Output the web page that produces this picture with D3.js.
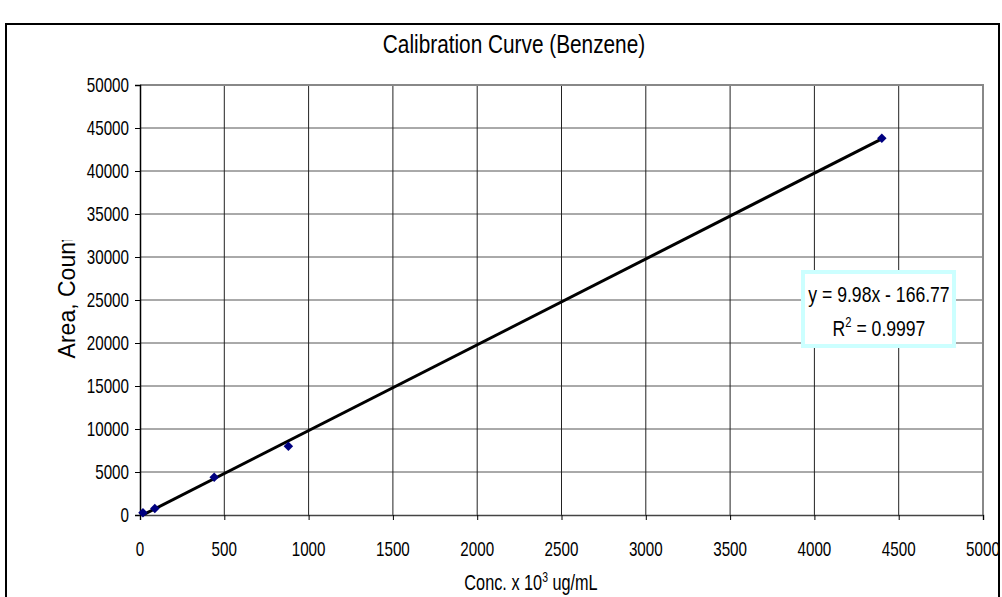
<!DOCTYPE html>
<html>
<head>
<meta charset="utf-8">
<script src="https://cdn.jsdelivr.net/npm/d3@7"></script>
<style>
  body { margin: 0; background: #fff; }
  text { font-family: "Liberation Sans", Arial, sans-serif; fill: #000; }
</style>
</head>
<body>
<svg id="chart" width="1002" height="597"></svg>
<script>
// data
var concs = [17.6, 88, 440, 880, 4400];
var areas = [250, 750, 4400, 8000, 43800];
var xTicks = [0, 500, 1000, 1500, 2000, 2500, 3000, 3500, 4000, 4500, 5000];
var yTicks = [0, 5000, 10000, 15000, 20000, 25000, 30000, 35000, 40000, 45000, 50000];
var slope = 9.98, intercept = -166.77, r2 = 0.9997;

var svg = d3.select("#chart");

var x = d3.scaleLinear().domain([0, 5000]).range([140, 983]);
var y = d3.scaleLinear().domain([0, 50000]).range([515, 85]);

// narrow text: scale horizontally around anchor point
function narrow(sel, sx) {
  return sel.attr("transform", function(d) {
    var p = this.__pos;
    return "translate(" + p[0] + "," + p[1] + ") scale(" + sx + ",1)";
  });
}

// outer chart border
svg.append("rect")
  .attr("x", 6).attr("y", 24)
  .attr("width", 993).attr("height", 620)
  .attr("fill", "none")
  .attr("stroke", "#000")
  .attr("stroke-width", 2);

// gridlines
svg.append("g")
  .selectAll("line")
  .data(yTicks.slice(1, -1))
  .join("line")
  .attr("x1", x(0)).attr("x2", x(5000))
  .attr("y1", d => y(d)).attr("y2", d => y(d))
  .attr("stroke", "#555").attr("stroke-width", 1);

svg.append("g")
  .selectAll("line")
  .data(xTicks.slice(1, -1))
  .join("line")
  .attr("x1", d => x(d)).attr("x2", d => x(d))
  .attr("y1", y(0)).attr("y2", y(50000))
  .attr("stroke", "#222").attr("stroke-width", 1);

// plot area border (top / right)
svg.append("path")
  .attr("d", "M" + x(0) + "," + y(50000) + "H" + x(5000) + "V" + y(0))
  .attr("fill", "none")
  .attr("stroke", "#888")
  .attr("stroke-width", 2);

// axes
var yAxis = svg.append("g")
  .attr("transform", "translate(" + x(0) + ",0)")
  .call(d3.axisLeft(y).tickValues(yTicks).tickSize(5).tickFormat(""));
var xAxis = svg.append("g")
  .attr("transform", "translate(0," + y(0) + ")")
  .call(d3.axisBottom(x).tickValues(xTicks).tickSize(5).tickFormat(""));
[yAxis, xAxis].forEach(function(a) {
  a.select(".domain").attr("stroke", "#000").attr("stroke-width", 1.5);
  a.selectAll(".tick line").attr("stroke", "#000");
});
xAxis.select(".domain").attr("stroke", "#444");

// tick labels
svg.append("g")
  .selectAll("text")
  .data(yTicks)
  .join("text")
  .each(function(d) { this.__pos = [129, y(d) + 7]; })
  .call(narrow, 0.76)
  .attr("text-anchor", "end")
  .style("font-size", "20px")
  .text(d => d);

svg.append("g")
  .selectAll("text")
  .data(xTicks)
  .join("text")
  .each(function(d) { this.__pos = [x(d), 556]; })
  .call(narrow, 0.76)
  .attr("text-anchor", "middle")
  .style("font-size", "20px")
  .text(d => d);

// title
svg.append("text")
  .each(function() { this.__pos = [514, 53]; })
  .call(narrow, 0.8)
  .attr("text-anchor", "middle")
  .style("font-size", "26px")
  .text("Calibration Curve (Benzene)");

// x axis title
var xt = svg.append("text")
  .each(function() { this.__pos = [531, 590]; })
  .call(narrow, 0.74)
  .attr("text-anchor", "middle")
  .style("font-size", "22px");
xt.append("tspan").text("Conc. x 10");
xt.append("tspan").attr("dy", -8).style("font-size", "14px").text("3");
xt.append("tspan").attr("dy", 8).text(" ug/mL");

// y axis title (last letter clipped like the source)
svg.append("clipPath").attr("id", "yclip")
  .append("rect").attr("x", 0).attr("y", 240).attr("width", 120).attr("height", 300);
svg.append("g")
  .attr("clip-path", "url(#yclip)")
  .append("text")
  .attr("transform", "translate(75,297) rotate(-90)")
  .attr("text-anchor", "middle")
  .style("font-size", "23px")
  .text("Area, Count");

// trendline
var line = d3.line().x(d => x(d)).y(d => y(slope * d + intercept));
svg.append("path")
  .datum([concs[0], concs[concs.length - 1]])
  .attr("d", line)
  .attr("fill", "none")
  .attr("stroke", "#000")
  .attr("stroke-width", 3);

// points
svg.append("g")
  .selectAll("path")
  .data(concs.map((c, i) => [c, areas[i]]))
  .join("path")
  .attr("d", d3.symbol().type(d3.symbolSquare).size(45))
  .attr("transform", d => "translate(" + x(d[0]) + "," + y(d[1]) + ") rotate(45)")
  .attr("fill", "#000080");

// equation box
svg.append("rect")
  .attr("x", 803).attr("y", 272)
  .attr("width", 151).attr("height", 74)
  .attr("fill", "#fff")
  .attr("stroke", "#ccffff")
  .attr("stroke-width", 4);

svg.append("text")
  .each(function() { this.__pos = [879, 302]; })
  .call(narrow, 0.8)
  .attr("text-anchor", "middle")
  .style("font-size", "22px")
  .text("y = " + slope + "x - " + Math.abs(intercept));

var rt = svg.append("text")
  .each(function() { this.__pos = [879, 336]; })
  .call(narrow, 0.8)
  .attr("text-anchor", "middle")
  .style("font-size", "22px");
rt.append("tspan").text("R");
rt.append("tspan").attr("dy", -9).style("font-size", "14px").text("2");
rt.append("tspan").attr("dy", 9).text(" = " + r2);
</script>
</body>
</html>
